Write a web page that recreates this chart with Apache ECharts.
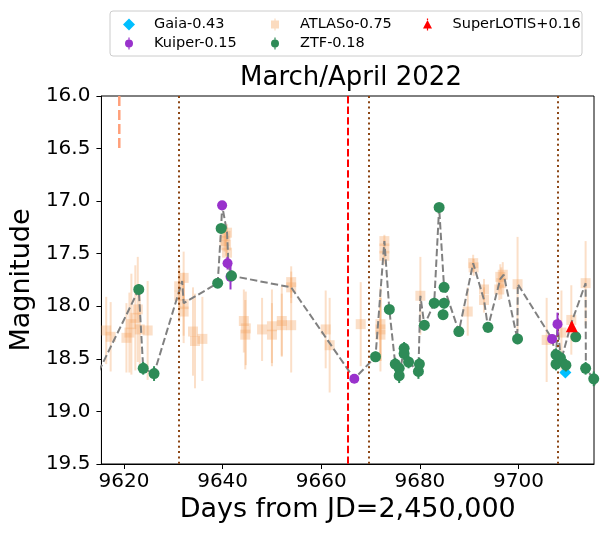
<!DOCTYPE html>
<html>
<head>
<meta charset="utf-8">
<script src="https://cdn.jsdelivr.net/npm/echarts@6.0.0/dist/echarts.min.js"></script>
<style>
  html, body { margin: 0; padding: 0; background: #fff; }
  #main { width: 603px; height: 536px; }
</style>
</head>
<body>
<div id="main"></div>
<script>
// axis ticks
var xTicks = [9620, 9640, 9660, 9680, 9700];
var xMin = 9615.43, xMax = 9715.3;
var yMin = 16.0, yMax = 19.5, yStep = 0.5;

// Gaia
var gaiaX = [9709.5];
var gaiaY = [18.63];

// Kuiper
var kuiperX = [9639.9, 9641.0, 9641.6, 9666.7, 9706.8, 9707.9];
var kuiperY = [17.04, 17.59, 17.72, 18.69, 18.31, 18.17];
var kuiperErr = [0.04, 0.06, 0.12, 0.04, 0.04, 0.11];

// ATLAS (o)
var atlasX = [9616.4, 9617.3, 9620.5, 9621.1, 9621.5, 9622.3, 9622.8, 9623.2, 9624.8,
  9631.2, 9631.2, 9632.1, 9632.1, 9632.1, 9634.0, 9634.4, 9635.9,
  9640.4, 9640.6, 9640.9, 9640.7, 9640.9,
  9644.3, 9644.7, 9644.6, 9648.0, 9650.0, 9650.0, 9652.0, 9652.0, 9653.9, 9653.9, 9653.9,
  9660.9, 9661.7, 9668.0, 9672.0, 9672.0, 9672.0, 9672.8, 9672.8, 9672.8, 9680.1,
  9689.7, 9690.8, 9690.9, 9693.0, 9693.0, 9696.1, 9696.3, 9696.8, 9696.5, 9699.8,
  9705.7, 9708.7, 9710.7, 9713.6];
var atlasY = [18.23, 18.29, 18.30, 18.25, 18.17, 18.11, 18.03, 18.22, 18.23,
  17.81, 17.90, 17.73, 17.98, 18.05, 18.24, 18.33, 18.31,
  17.38, 17.33, 17.30, 17.42, 17.49,
  18.14, 18.21, 18.27, 18.22, 18.19, 18.27, 18.14, 18.18, 17.77, 17.82, 18.18,
  18.22, 18.37, 18.17, 18.17, 18.22, 18.27, 17.38, 17.45, 17.52, 17.90,
  18.05, 17.59, 17.63, 17.84, 17.94, 17.84, 17.72, 17.70, 17.78, 17.79,
  18.32, 18.25, 18.13, 17.78];
var atlasErr = [0.32, 0.33, 0.33, 0.38, 0.48, 0.50, 0.50, 0.35, 0.47,
  0.20, 0.25, 0.25, 0.30, 0.30, 0.42, 0.45, 0.40,
  0.10, 0.10, 0.08, 0.10, 0.08,
  0.30, 0.35, 0.33, 0.30, 0.35, 0.30, 0.33, 0.30, 0.15, 0.15, 0.45,
  0.37, 0.45, 0.40, 0.35, 0.30, 0.35, 0.06, 0.08, 0.08, 0.37,
  0.23, 0.08, 0.08, 0.10, 0.12, 0.10, 0.12, 0.12, 0.15, 0.45,
  0.40, 0.40, 0.33, 0.40];

// ZTF
var ztfX = [9623.0, 9623.9, 9626.1, 9639.0, 9639.7, 9641.8,
  9671.0, 9673.8, 9675.0, 9675.8, 9675.8, 9676.8, 9676.8, 9677.7, 9679.7, 9679.9,
  9680.9, 9682.9, 9683.9, 9684.9, 9684.9, 9684.7, 9687.9, 9693.8, 9699.8,
  9707.6, 9707.6, 9708.5, 9709.6, 9711.6, 9713.6, 9715.25];
var ztfY = [17.84, 18.59, 18.64, 17.78, 17.26, 17.71,
  18.48, 18.03, 18.55, 18.59, 18.66, 18.40, 18.45, 18.53, 18.62, 18.55,
  18.18, 17.97, 17.06, 17.82, 17.97, 18.08, 18.24, 18.20, 18.31,
  18.46, 18.55, 18.49, 18.56, 18.29, 18.59, 18.69];
var ztfErr = [0.05, 0.06, 0.07, 0.04, 0.04, 0.05,
  0.05, 0.04, 0.06, 0.06, 0.07, 0.06, 0.06, 0.06, 0.07, 0.06,
  0.05, 0.05, 0.03, 0.04, 0.05, 0.05, 0.05, 0.05, 0.05,
  0.06, 0.06, 0.06, 0.06, 0.05, 0.06, 0.07];

// SuperLOTIS
var lotisX = [9710.8];
var lotisY = [18.19];
var lotisErr = [0.04];

// combined light curve (gray dashed)
var curveX = [9613.0, 9623.0, 9623.9, 9626.1, 9631.8, 9632.1, 9639.0, 9639.7, 9639.9, 9640.9,
  9641.1, 9641.0, 9641.8, 9653.9, 9666.7, 9671.0, 9672.8, 9673.8, 9675.0, 9675.8,
  9676.8, 9677.7, 9679.7, 9680.1, 9680.9, 9682.9, 9683.9, 9684.9, 9687.9, 9690.8,
  9693.0, 9693.8, 9696.3, 9697.0, 9699.75, 9699.85, 9706.8, 9707.6, 9707.9, 9708.6,
  9710.7, 9713.6, 9713.65, 9715.2, 9717.0];
var curveY = [18.80, 17.84, 18.59, 18.64, 17.76, 17.97, 17.78, 17.26, 17.04, 17.30,
  17.51, 17.59, 17.71, 17.82, 18.69, 18.48, 17.38, 18.03, 18.55, 18.66,
  18.40, 18.53, 18.62, 17.90, 18.18, 17.97, 17.06, 17.82, 18.24, 17.59,
  17.94, 18.20, 17.74, 17.70, 18.31, 17.79, 18.31, 18.50, 18.17, 18.52,
  18.16, 17.78, 18.59, 18.69, 18.85];

// short salmon segment at top left
var segX = [9619.05, 9619.05];
var segY = [16.0, 16.5];

// vertical reference lines
var redLineX = [9665.3];
var dottedLinesX = [9631.2, 9669.7, 9707.9];

var FONT = 'DejaVu Sans';
var C_GAIA = '#00bfff', C_KUIPER = '#9932cc', C_ATLAS = '#f4a460', C_ZTF = '#2e8b57', C_LOTIS = '#ff0000';

function pairs(xs, ys) {
  return xs.map(function (x, i) { return [x, ys[i]]; });
}

//误差棒 (error bars drawn through the axes)
function errBars(name, xs, ys, errs, color, opacity, width, z) {
  return {
    name: name,
    type: 'custom',
    z: z,
    silent: true,
    renderItem: function (params, api) {
      var p1 = api.coord([api.value(0), api.value(1)]);
      var p2 = api.coord([api.value(0), api.value(2)]);
      return {
        type: 'line',
        shape: { x1: p1[0], y1: p1[1], x2: p2[0], y2: p2[1] },
        style: { stroke: color, lineWidth: width, opacity: opacity }
      };
    },
    encode: { x: 0, y: [1, 2] },
    data: xs.map(function (x, i) { return [x, ys[i] - errs[i], ys[i] + errs[i]]; })
  };
}

function vlines(xs, color, type) {
  return {
    silent: true,
    symbol: ['none', 'none'],
    label: { show: false },
    animation: false,
    lineStyle: { color: color, type: type, width: 2 },
    data: xs.map(function (x) { return { xAxis: x }; })
  };
}

// legend icons: marker plus errorbar stubs
function stubs(top, bottom) {
  return 'M5.4,0 L6.6,0 L6.6,' + top + ' L5.4,' + top + ' Z M5.4,' + bottom + ' L6.6,' + bottom + ' L6.6,12 L5.4,12 Z ';
}
var iconCircle = 'path://' + stubs(2.2, 9.8) + 'M2,6 A4,4 0 1,1 10,6 A4,4 0 1,1 2,6 Z';
var iconSquare = 'path://' + stubs(2, 10) + 'M2,2 L10,2 L10,10 L2,10 Z';
var iconTri = 'path://' + stubs(1.6, 10) + 'M6,1.6 L10.5,10 L1.5,10 Z';
var iconDiamond = 'path://M6,0 L12,6 L6,12 L0,6 Z';

var legendCommon = {
  orient: 'vertical',
  padding: 0,
  itemWidth: 12,
  itemHeight: 12,
  itemGap: 2,
  selectedMode: false,
  z: 5,
  textStyle: { fontFamily: FONT, fontSize: 14.5, color: '#000', lineHeight: 17, padding: [0, 0, 0, 14] }
};

var chart = echarts.init(document.getElementById('main'), null, { renderer: 'canvas' });

var option = {
  backgroundColor: '#fff',
  animation: false,
  title: {
    text: 'March/April 2022',
    left: 346,
    top: 60,
    textAlign: 'center',
    textStyle: { fontFamily: FONT, fontSize: 26, fontWeight: 'normal', color: '#000' }
  },
  graphic: [{
    type: 'rect',
    z: 1,
    shape: { x: 110, y: 11, width: 472, height: 45, r: 3 },
    style: { fill: 'rgba(255,255,255,0.8)', stroke: '#cccccc', lineWidth: 1 }
  }],
  legend: [
    Object.assign({}, legendCommon, {
      left: 123, top: 16,
      data: [
        { name: 'Gaia-0.43', icon: iconDiamond, itemStyle: { color: C_GAIA } },
        { name: 'Kuiper-0.15', icon: iconCircle, itemStyle: { color: C_KUIPER } }
      ]
    }),
    Object.assign({}, legendCommon, {
      left: 271, top: 16,
      data: [
        { name: 'ATLASo-0.75', icon: iconSquare, itemStyle: { color: C_ATLAS, opacity: 0.4 } },
        { name: 'ZTF-0.18', icon: iconCircle, itemStyle: { color: C_ZTF } }
      ]
    }),
    Object.assign({}, legendCommon, {
      left: 423, top: 16,
      data: [
        { name: 'SuperLOTIS+0.16', icon: iconTri, itemStyle: { color: C_LOTIS } }
      ]
    })
  ],
  grid: {
    left: 98, right: 9, top: 96, bottom: 72,
    show: true, borderColor: '#000', borderWidth: 1
  },
  xAxis: {
    type: 'value',
    min: xMin,
    max: xMax,
    name: 'Days from JD=2,450,000',
    nameLocation: 'middle',
    nameGap: 31,
    nameTextStyle: { fontFamily: FONT, fontSize: 27, color: '#000' },
    axisLine: { show: true, onZero: false, lineStyle: { color: '#000', width: 1 } },
    axisTick: { show: true, length: 5, customValues: xTicks, lineStyle: { color: '#000' } },
    axisLabel: {
      customValues: xTicks, margin: 8, fontFamily: FONT, fontSize: 20, color: '#000',
      formatter: function (v) { return String(v); }
    },
    splitLine: { show: false }
  },
  yAxis: {
    type: 'value',
    inverse: true,
    min: yMin,
    max: yMax,
    interval: yStep,
    name: 'Magnitude',
    nameLocation: 'middle',
    nameGap: 58,
    nameTextStyle: { fontFamily: FONT, fontSize: 27, color: '#000' },
    axisLine: { show: true, onZero: false, lineStyle: { color: '#000', width: 1 } },
    axisTick: { show: true, length: 5, lineStyle: { color: '#000' } },
    axisLabel: {
      margin: 11, fontFamily: FONT, fontSize: 20, color: '#000',
      formatter: function (v) { return v.toFixed(1); }
    },
    splitLine: { show: false }
  },
  series: [
    {
      name: 'seg',
      type: 'line',
      z: 2,
      symbol: 'none',
      silent: true,
      data: pairs(segX, segY),
      lineStyle: { color: '#ffa07a', width: 2.5, type: [10, 4] },
      markLine: vlines(redLineX, '#ff0000', [7.4, 3.2])
    },
    {
      name: 'dotted',
      type: 'line',
      z: 2,
      symbol: 'none',
      silent: true,
      data: [],
      markLine: vlines(dottedLinesX, '#8b4513', [2, 3.3])
    },
    // ATLAS
    {
      name: 'ATLASo-0.75',
      type: 'scatter',
      z: 3,
      symbol: 'rect',
      symbolSize: 10,
      itemStyle: { color: C_ATLAS, opacity: 0.35 },
      data: pairs(atlasX, atlasY)
    },
    errBars('ATLASo-0.75', atlasX, atlasY, atlasErr, C_ATLAS, 0.35, 2, 3),
    // gray dashed curve
    {
      name: 'curve',
      type: 'line',
      z: 4,
      symbol: 'none',
      silent: true,
      clip: true,
      data: pairs(curveX, curveY),
      lineStyle: { color: '#808080', width: 2, type: [7.4, 3.2] }
    },
    // Gaia
    {
      name: 'Gaia-0.43',
      type: 'scatter',
      z: 5,
      symbol: 'diamond',
      symbolSize: 12,
      itemStyle: { color: C_GAIA, opacity: 1 },
      data: pairs(gaiaX, gaiaY)
    },
    // Kuiper
    {
      name: 'Kuiper-0.15',
      type: 'scatter',
      z: 6,
      symbol: 'circle',
      symbolSize: 10,
      itemStyle: { color: C_KUIPER, opacity: 1 },
      data: pairs(kuiperX, kuiperY)
    },
    errBars('Kuiper-0.15', kuiperX, kuiperY, kuiperErr, C_KUIPER, 1, 2, 6),
    // ZTF
    {
      name: 'ZTF-0.18',
      type: 'scatter',
      z: 7,
      symbol: 'circle',
      symbolSize: 11,
      itemStyle: { color: C_ZTF, opacity: 1 },
      data: pairs(ztfX, ztfY)
    },
    errBars('ZTF-0.18', ztfX, ztfY, ztfErr, C_ZTF, 1, 2, 7),
    // SuperLOTIS
    {
      name: 'SuperLOTIS+0.16',
      type: 'scatter',
      z: 8,
      symbol: 'triangle',
      symbolSize: 12,
      itemStyle: { color: C_LOTIS, opacity: 1 },
      data: pairs(lotisX, lotisY)
    },
    errBars('SuperLOTIS+0.16', lotisX, lotisY, lotisErr, C_LOTIS, 1, 2, 8)
  ]
};

chart.setOption(option);
</script>
</body>
</html>
